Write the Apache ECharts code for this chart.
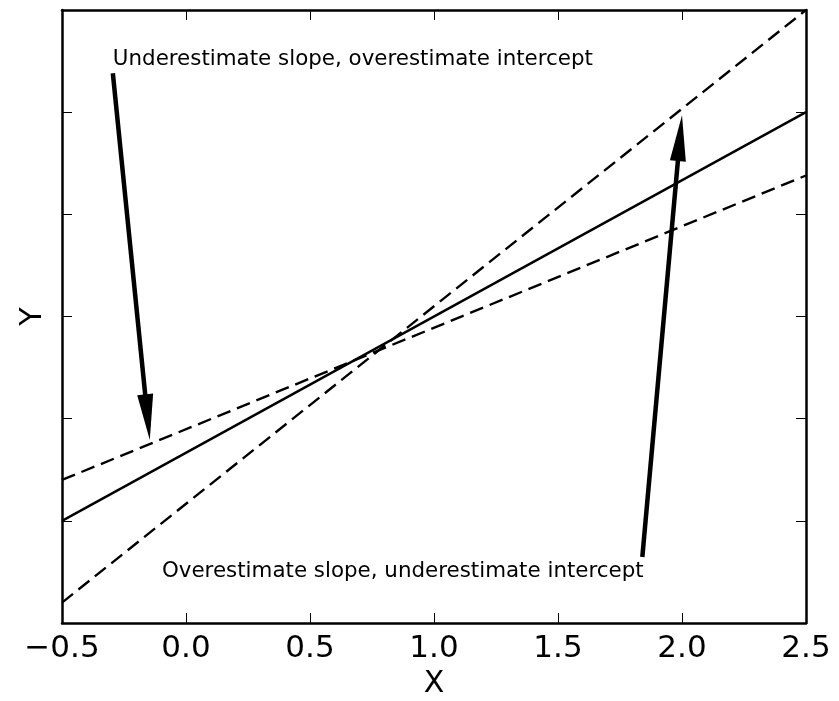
<!DOCTYPE html>
<html>
<head>
<meta charset="utf-8">
<script src="https://cdn.jsdelivr.net/npm/echarts@6/dist/echarts.min.js"></script>
<style>html,body{margin:0;padding:0;background:#fff}#chart{width:839px;height:701px}</style>
</head>
<body>
<div id="chart"></div>
<script>
// Data
const xTicks = [-0.5, 0.0, 0.5, 1.0, 1.5, 2.0, 2.5];
const lineX = [-0.5, 2.5];
const trueLineY = [1.0, 5.0];
const shallowLineY = [1.4, 4.38];
const steepLineY = [0.2, 6.0];
const annotationTexts = ['Underestimate slope, overestimate intercept', 'Overestimate slope, underestimate intercept'];
const annotationTextPos = [[-0.295, 5.52], [-0.097, 0.50]];
const arrowStart = [[-0.295, 5.38], [1.84, 0.646]];
const arrowEnd = [[-0.146, 1.79], [2.0, 4.97]];

const FONT = 'DejaVu Sans';
function fmt(v){ return v < 0 ? '\u2212' + Math.abs(v).toFixed(1) : v.toFixed(1); }
function pts(ys){ return lineX.map((x,i)=>[x, ys[i]]); }

const chart = echarts.init(document.getElementById('chart'));
const axisLine = {show:true, onZero:false, lineStyle:{color:'#000', width:2.5}};
const tick = {show:true, inside:true, length:10, lineStyle:{color:'#000', width:1}};
chart.setOption({
  animation:false,
  backgroundColor:'#fff',
  grid:{left:62, right:33, top:10, bottom:78, containLabel:false, outerBoundsMode:'none'},
  xAxis:[
    {type:'value', min:-0.5, max:2.5, interval:0.5, position:'bottom',
     axisLine, axisTick:tick, splitLine:{show:false},
     axisLabel:{show:true, formatter:fmt, fontFamily:FONT, fontSize:31, color:'#000', margin:10, showMinLabel:true, showMaxLabel:true, hideOverlap:false},
     name:'X', nameLocation:'middle', nameGap:44, nameTextStyle:{fontFamily:FONT, fontSize:30, color:'#000'}},
    {type:'value', min:-0.5, max:2.5, interval:0.5, position:'top',
     axisLine, axisTick:tick, axisLabel:{show:false}, splitLine:{show:false}}
  ],
  yAxis:[
    {type:'value', min:0, max:6, interval:1, position:'left',
     axisLine, axisTick:tick, axisLabel:{show:false}, splitLine:{show:false},
     name:'Y', nameLocation:'middle', nameGap:14, nameRotate:90, nameTextStyle:{fontFamily:FONT, fontSize:30, color:'#000'}},
    {type:'value', min:0, max:6, interval:1, position:'right',
     axisLine, axisTick:tick, axisLabel:{show:false}, splitLine:{show:false}}
  ],
  series:[
    {type:'line', data:pts(trueLineY), symbol:'none', lineStyle:{color:'#000', width:2.4}},
    {type:'line', data:pts(shallowLineY), symbol:'none', lineStyle:{color:'#000', width:2.4, type:[14,7]}},
    {type:'line', data:pts(steepLineY), symbol:'none', lineStyle:{color:'#000', width:2.4, type:[14,7]}},
    {type:'custom', clip:false,
     data: arrowStart.map((s,i)=>[s[0], s[1], arrowEnd[i][0], arrowEnd[i][1]]),
     renderItem(params, api){
       const p1 = api.coord([api.value(0), api.value(1)]);
       const p2 = api.coord([api.value(2), api.value(3)]);
       const dx=p2[0]-p1[0], dy=p2[1]-p1[1], L=Math.hypot(dx,dy);
       const ux=dx/L, uy=dy/L, nx=-uy, ny=ux;
       const headLen=46, headW=8;
       const bx=p2[0]-ux*headLen, by=p2[1]-uy*headLen;
       return {type:'group', children:[
         {type:'line', shape:{x1:p1[0], y1:p1[1], x2:bx+ux*2, y2:by+uy*2}, style:{stroke:'#000', lineWidth:4.5}},
         {type:'polygon', shape:{points:[[p2[0],p2[1]],[bx+nx*headW,by+ny*headW],[bx-nx*headW,by-ny*headW]]}, style:{fill:'#000'}}
       ]};
     }},
    {type:'custom', clip:false,
     data: annotationTextPos.map((p,i)=>[p[0], p[1], i]),
     renderItem(params, api){
       const p = api.coord([api.value(0), api.value(1)]);
       return {type:'text', x:p[0], y:p[1], style:{text:annotationTexts[api.value(2)], fontFamily:FONT, fontSize:21.4, fill:'#000', align:'left', verticalAlign:'middle'}};
     }}
  ]
});
</script>
</body>
</html>
